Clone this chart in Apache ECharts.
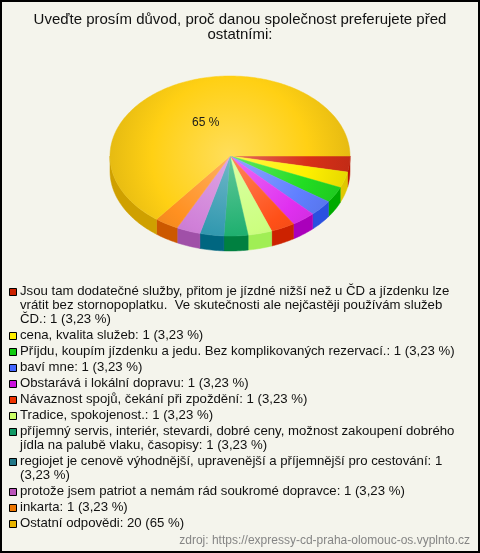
<!DOCTYPE html>
<html><head><meta charset="utf-8">
<script src="https://cdn.jsdelivr.net/npm/echarts@6/dist/echarts.min.js"></script>
<style>html,body{margin:0;padding:0;background:#f4f4ec}#c{width:480px;height:553px}</style>
</head><body><div id="c"></div>
<script>
const titleText = 'Uveďte prosím důvod, proč danou společnost preferujete před ostatními:';
const categories = [
  'Jsou tam dodatečné služby, přitom je jízdné nižší než u ČD a jízdenku lze vrátit bez stornopoplatku.  Ve skutečnosti ale nejčastěji používám služeb ČD.',
  'cena, kvalita služeb',
  'Příjdu, koupím jízdenku a jedu. Bez komplikovaných rezervací.',
  'baví mne',
  'Obstarává i lokální dopravu',
  'Návaznost spojů, čekání při zpoždění',
  'Tradice, spokojenost.',
  'příjemný servis, interiér, stevardi, dobré ceny, možnost zakoupení dobrého jídla na palubě vlaku, časopisy',
  'regiojet je cenově výhodnější, upravenější a příjemnější pro cestování',
  'protože jsem patriot a nemám rád soukromé dopravce',
  'inkarta',
  'Ostatní odpovědi'
];
const values = [1, 1, 1, 1, 1, 1, 1, 1, 1, 1, 1, 20];
const percentLabels = ['3,23 %', '3,23 %', '3,23 %', '3,23 %', '3,23 %', '3,23 %', '3,23 %', '3,23 %', '3,23 %', '3,23 %', '3,23 %', '65 %'];
const sliceLabels = ['', '', '', '', '', '', '', '', '', '', '', '65 %'];
const sourceText = 'zdroj: https://expressy-cd-praha-olomouc-os.vyplnto.cz';

// styles
const topColors = ['#d83018', '#fff000', '#22dd22', '#6080ff', '#e030f0', '#ff5018', '#ccff80', '#20b070', '#3399b0', '#d080d8', '#ff9020', '#ffd014'];
const sideColors = ['#b81400', '#e0c800', '#00aa00', '#2a50e0', '#aa00bb', '#cc2200', '#a0ee55', '#008040', '#006680', '#a050a8', '#cc5800', '#cfa000'];
const swatchColors = ['#cc2200', '#ffee00', '#11cc11', '#4466ff', '#cc11dd', '#ee3300', '#ccff66', '#119966', '#227788', '#bb55bb', '#ee7700', '#e8b400'];
const FONT = '"Liberation Sans", Arial, sans-serif';

function mix(hex, target, t) {
  const h = hex.replace('#', '');
  const c = [0, 2, 4].map(i => parseInt(h.substr(i, 2), 16));
  const r = c.map(v => Math.round(v + (target - v) * t));
  return 'rgb(' + r.join(',') + ')';
}

const measureCtx = document.createElement('canvas').getContext('2d');
function wrapText(text, font, maxW) {
  measureCtx.font = font;
  const words = text.split(' ');
  const lines = [];
  let line = words[0];
  for (let k = 1; k < words.length; k++) {
    const test = line + ' ' + words[k];
    if (words[k] !== '' && measureCtx.measureText(test).width > maxW && line.trim() !== '') {
      lines.push(line.replace(/\s+$/, ''));
      line = words[k];
    } else {
      line = test;
    }
  }
  lines.push(line);
  return lines;
}

const CX = 230, CY = 156, RX = 120, RY = 80, DEPTH = 15;
const total = values.reduce((a, b) => a + b, 0);

function renderItem(params, api) {
  const i = params.dataIndex;
  let start = 0;
  for (let k = 0; k < i; k++) start += values[k];
  const a1 = start / total * 2 * Math.PI;
  const a2 = (start + api.value(0)) / total * 2 * Math.PI;
  const pt = (a, dy) => [CX + RX * Math.cos(a), CY + RY * Math.sin(a) + (dy || 0)];
  const deg = Math.PI / 180;
  const children = [];
  const s1 = Math.max(a1, 0), s2 = Math.min(a2, Math.PI);
  if (s2 > s1) {
    const n = Math.max(2, Math.ceil((s2 - s1) / deg));
    const pts = [];
    for (let s = 0; s <= n; s++) pts.push(pt(s1 + (s2 - s1) * s / n));
    for (let s = n; s >= 0; s--) pts.push(pt(s1 + (s2 - s1) * s / n, DEPTH));
    children.push({ type: 'polygon', shape: { points: pts }, style: { fill: sideColors[i], stroke: sideColors[i], lineWidth: 0.5 }, z2: 1 });
  }
  const steps = Math.max(2, Math.ceil((a2 - a1) / deg));
  const top = [[CX, CY]];
  for (let s = 0; s <= steps; s++) top.push(pt(a1 + (a2 - a1) * s / steps));
  const base = topColors[i];
  const grad = new echarts.graphic.RadialGradient(CX, CY, RX, [
    { offset: 0, color: mix(base, 255, 0.3) },
    { offset: 0.65, color: base },
    { offset: 1, color: mix(base, 0, 0.1) }
  ], true);
  children.push({ type: 'polygon', shape: { points: top }, style: { fill: grad, stroke: grad, lineWidth: 0.5 }, z2: 10 });
  if (sliceLabels[i]) {
    const mid = (a1 + a2) / 2;
    children.push({
      type: 'text', z2: 20,
      style: {
        text: sliceLabels[i], x: CX + RX * 0.46 * Math.cos(mid), y: CY + RY * 0.46 * Math.sin(mid),
        align: 'center', verticalAlign: 'middle', font: '12px ' + FONT, fill: '#1a1a1a'
      }
    });
  }
  return { type: 'group', children };
}

const LEG_W = 445, LINE_H = 14;
const LEG_FONT = '13.2px ' + FONT;
const TITLE_FONT = '15px ' + FONT;
const graphics = [];
graphics.push({
  type: 'text', x: 240, y: 12,
  style: { text: wrapText(titleText, TITLE_FONT, 440).join('\n'), align: 'center', verticalAlign: 'top', font: TITLE_FONT, lineHeight: 15, fill: '#111' }
});
let ly = 284;
categories.forEach((cat, i) => {
  const txt = cat + ': ' + values[i] + ' (' + percentLabels[i] + ')';
  const lines = wrapText(txt, LEG_FONT, LEG_W);
  graphics.push({ type: 'rect', shape: { x: 9.5, y: ly + 4.5, width: 7, height: 7 }, style: { fill: swatchColors[i], stroke: '#000', lineWidth: 1 }, z: 5 });
  graphics.push({ type: 'text', x: 20, y: ly, style: { text: lines.join('\n'), font: LEG_FONT, lineHeight: LINE_H, fill: '#111', verticalAlign: 'top', align: 'left' }, z: 5 });
  ly += lines.length * LINE_H + 2;
});
graphics.push({ type: 'text', x: 470, y: 541, style: { text: sourceText, align: 'right', verticalAlign: 'middle', font: '12px ' + FONT, fill: '#858585' } });
graphics.push({ type: 'rect', shape: { x: 1, y: 1, width: 478, height: 551 }, style: { fill: 'none', stroke: '#000', lineWidth: 2 }, z: 50 });

const chart = echarts.init(document.getElementById('c'), null, { renderer: 'canvas' });
chart.setOption({
  backgroundColor: '#f4f4ec',
  animation: false,
  graphic: graphics,
  series: [{
    type: 'custom', coordinateSystem: 'none', silent: true,
    data: values.map(v => [v]),
    renderItem: renderItem
  }]
});
</script></body></html>
